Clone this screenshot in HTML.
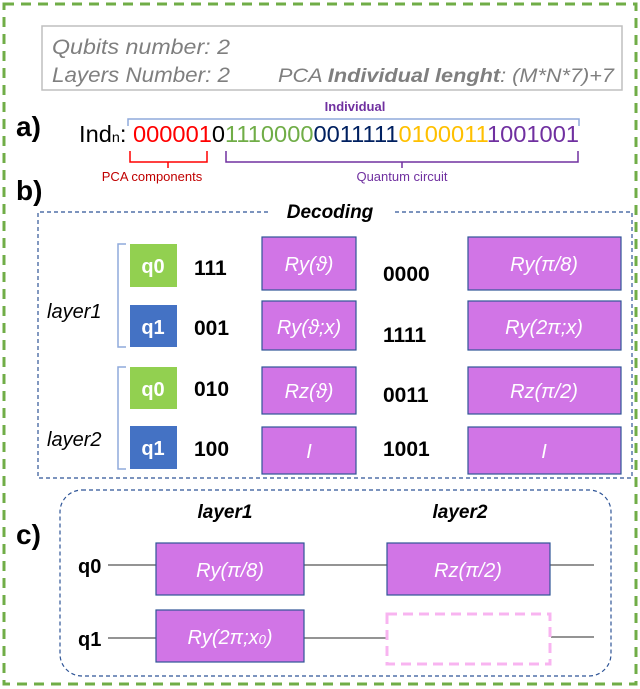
<!DOCTYPE html>
<html><head><meta charset="utf-8"><style>
html,body{margin:0;padding:0;background:#fff}
svg{display:block}
text{font-family:"Liberation Sans",sans-serif}
</style></head><body>
<svg width="640" height="689" viewBox="0 0 640 689" xmlns="http://www.w3.org/2000/svg">
<rect x="4" y="4" width="632" height="680" fill="none" stroke="#70ad47" stroke-width="3" stroke-dasharray="10,7"/>
<rect x="42" y="26" width="580" height="64" fill="#fff" stroke="#bfbfbf" stroke-width="1.5"/>
<text x="52" y="54" font-size="21" font-style="italic" fill="#7f7f7f" textLength="178" lengthAdjust="spacingAndGlyphs">Qubits number: 2</text>
<text x="52" y="82" font-size="21" font-style="italic" fill="#7f7f7f" textLength="178" lengthAdjust="spacingAndGlyphs">Layers Number: 2</text>
<text x="278" y="82" font-size="19" font-style="italic" fill="#7f7f7f" textLength="336" lengthAdjust="spacingAndGlyphs">PCA <tspan font-weight="bold">Individual lenght</tspan>: (M*N*7)+7</text>
<text x="16" y="136" font-size="28" font-weight="bold">a)</text>
<text x="16" y="200" font-size="28" font-weight="bold">b)</text>
<text x="16" y="544" font-size="28" font-weight="bold">c)</text>
<text x="355" y="111" font-size="13" font-weight="bold" fill="#7030a0" text-anchor="middle">Individual</text>
<path d="M128,126 V119 H579 V126" fill="none" stroke="#8faadc" stroke-width="1.5"/>
<text x="79" y="142" font-size="23" textLength="500" lengthAdjust="spacingAndGlyphs">Ind<tspan font-size="14">n</tspan>: <tspan fill="#ff0000">000001</tspan><tspan fill="#000">0</tspan><tspan fill="#70ad47">1110000</tspan><tspan fill="#002060">0011111</tspan><tspan fill="#ffc000">0100011</tspan><tspan fill="#7030a0">1001001</tspan></text>
<path d="M130,151 V162 H207 V151 M168,162 V168" fill="none" stroke="#ff0000" stroke-width="1.5"/>
<path d="M226,151 V162 H578 V151 M402,162 V168" fill="none" stroke="#7030a0" stroke-width="1.5"/>
<text x="152" y="181" font-size="13" fill="#c00000" text-anchor="middle">PCA components</text>
<text x="402" y="181" font-size="13" fill="#7030a0" text-anchor="middle">Quantum circuit</text>
<path d="M268,212 H38 V478 H632 V212 H392" fill="none" stroke="#2f5597" stroke-width="1.2" stroke-dasharray="4,3"/>
<text x="330" y="218" font-size="19" font-weight="bold" font-style="italic" text-anchor="middle">Decoding</text>
<text x="47" y="318" font-size="20" font-style="italic">layer1</text>
<text x="47" y="446" font-size="20" font-style="italic">layer2</text>
<path d="M126,244 H118 V347 H126" fill="none" stroke="#8faadc" stroke-width="1.5"/>
<path d="M126,367 H118 V469 H126" fill="none" stroke="#8faadc" stroke-width="1.5"/>
<g font-size="20" font-weight="bold" fill="#fff" text-anchor="middle">
<rect x="130" y="244" width="47" height="43" fill="#92d050"/><text x="153" y="273">q0</text>
<rect x="130" y="305" width="47" height="42" fill="#4472c4"/><text x="153" y="334">q1</text>
<rect x="130" y="367" width="47" height="42" fill="#92d050"/><text x="153" y="396">q0</text>
<rect x="130" y="426" width="47" height="43" fill="#4472c4"/><text x="153" y="455">q1</text>
</g>
<g font-size="21" font-weight="bold">
<text x="194" y="275">111</text><text x="194" y="335">001</text><text x="194" y="396">010</text><text x="194" y="456">100</text>
<text x="383" y="281">0000</text><text x="383" y="342">1111</text><text x="383" y="402">0011</text><text x="383" y="456">1001</text>
</g>
<g fill="#d175e6" stroke="#2f5597" stroke-width="1.2">
<rect x="262" y="237" width="94" height="53"/><rect x="262" y="301" width="94" height="49"/>
<rect x="262" y="367" width="94" height="47"/><rect x="262" y="427" width="94" height="47"/>
<rect x="468" y="237" width="153" height="53"/><rect x="468" y="301" width="153" height="49"/>
<rect x="468" y="367" width="153" height="47"/><rect x="468" y="427" width="153" height="47"/>
</g>
<g font-size="20" font-style="italic" fill="#fff" text-anchor="middle">
<text x="309" y="271">Ry(ϑ)</text><text x="309" y="334">Ry(ϑ;x)</text><text x="309" y="398">Rz(ϑ)</text><text x="309" y="458">I</text>
<text x="544" y="271">Ry(π/8)</text><text x="544" y="334">Ry(2π;x)</text><text x="544" y="398">Rz(π/2)</text><text x="544" y="458">I</text>
</g>
<rect x="60" y="490" width="551" height="186" rx="22" fill="none" stroke="#2f5597" stroke-width="1.2" stroke-dasharray="4,3"/>
<text x="225" y="518" font-size="19" font-weight="bold" font-style="italic" text-anchor="middle">layer1</text>
<text x="460" y="518" font-size="19" font-weight="bold" font-style="italic" text-anchor="middle">layer2</text>
<text x="78" y="573" font-size="20" font-weight="bold">q0</text>
<text x="78" y="646" font-size="20" font-weight="bold">q1</text>
<path d="M108,565 H594 M108,638 H387 M551,637 H594" stroke="#555" stroke-width="1.3"/>
<rect x="156" y="543" width="148" height="52" fill="#d175e6" stroke="#2f5597" stroke-width="1.2"/>
<rect x="387" y="543" width="163" height="52" fill="#d175e6" stroke="#2f5597" stroke-width="1.2"/>
<rect x="156" y="610" width="148" height="52" fill="#d175e6" stroke="#2f5597" stroke-width="1.2"/>
<rect x="387" y="614" width="163" height="50" fill="#fff" stroke="#f8b4f0" stroke-width="3" stroke-dasharray="10,6"/>
<g font-size="20" font-style="italic" fill="#fff" text-anchor="middle">
<text x="230" y="577">Ry(π/8)</text><text x="468" y="577">Rz(π/2)</text>
<text x="230" y="644">Ry(2π;x<tspan font-size="13">0</tspan>)</text>
</g>
</svg>
</body></html>
